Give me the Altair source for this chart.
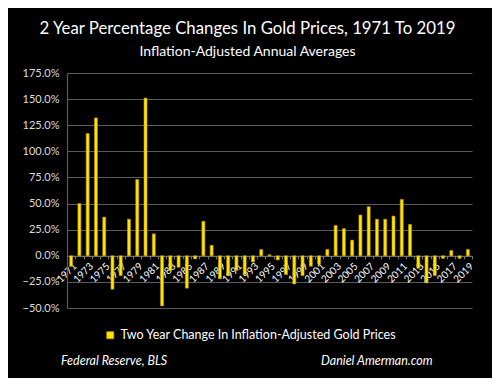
import altair as alt
import pandas as pd

years = list(range(1971, 2020))
changes = [
    -10, 50, 117, 132, 37, -32, -19, 35, 73, 151,
    21, -48, -14, -11, -31, -3, 33, 10, -22, -19,
    -14, -18, -6, 6, 1, -4, -18, -27, -19, -10,
    -8, 6, 29, 26, 15, 39, 47, 35, 35, 38,
    54, 30, -12, -26, -19, -2.5, 5, -2.5, 6,
]
series_name = "Two Year Change In Inflation-Adjusted Gold Prices"
sources = ["Federal Reserve, BLS", "Daniel Amerman.com"]

df = pd.DataFrame({"year": years, "change": changes, "series": series_name})

W, H = 405, 235
FONT = "Lato"
YMIN, YMAX = -50, 175

bars = alt.Chart(df).mark_bar(size=3, stroke="#b89400", strokeWidth=0.6).encode(
    x=alt.X(
        "year:O",
        scale=alt.Scale(paddingInner=0, paddingOuter=0),
        axis=alt.Axis(
            title=None,
            labelAngle=-45,
            labelExpr="datum.value % 2 == 1 ? datum.label : ''",
            labelColor="white",
            labelFont=FONT,
            labelFontSize=10,
            labelPadding=2,
            tickBand="extent",
            tickColor="#777777",
            tickSize=3,
            domainColor="#777777",
            domainWidth=1,
            grid=False,
            offset=-H * (0 - YMIN) / (YMAX - YMIN),
        ),
    ),
    y=alt.Y(
        "change:Q",
        scale=alt.Scale(domain=[YMIN, YMAX], nice=False),
        axis=alt.Axis(
            title=None,
            values=list(range(-50, 176, 25)),
            labelExpr="format(datum.value, '.1f') + '%'",
            labelColor="#dddddd",
            labelFont=FONT,
            labelFontSize=11,
            labelPadding=8,
            ticks=False,
            gridColor="#5a5a5a",
            gridWidth=1.2,
            domainColor="#5a5a5a",
            domainWidth=1.2,
        ),
    ),
    color=alt.Color(
        "series:N",
        scale=alt.Scale(range=["#ffe600"]),
        legend=alt.Legend(
            title=None,
            orient="none",
            legendX=37,
            legendY=256,
            symbolType="square",
            symbolSize=50,
            symbolStrokeColor="#b89400",
            symbolStrokeWidth=0.8,
            labelColor="white",
            labelFont=FONT,
            labelFontSize=12.5,
            labelLimit=400,
        ),
    ),
)

foot_df = pd.DataFrame({"text": sources, "px": [-6, 254]})
footers = alt.Chart(foot_df).mark_text(
    align="left", baseline="middle", color="white", font=FONT,
    fontSize=12.5, fontStyle="italic"
).encode(
    text="text:N",
    x=alt.X("px:Q", scale=None),
    y=alt.value(288),
)

chart = alt.layer(bars, footers).properties(
    width=W,
    height=H,
    title=alt.TitleParams(
        text="2 Year Percentage Changes In Gold Prices, 1971 To 2019",
        subtitle="Inflation-Adjusted Annual Averages",
        anchor="middle",
        dx=-22,
        color="white",
        subtitleColor="white",
        font=FONT,
        subtitleFont=FONT,
        fontSize=16.8,
        fontWeight="normal",
        subtitleFontSize=14,
        subtitlePadding=7,
        offset=8,
    ),
    background="black",
    padding={"left": 59, "top": 65, "right": 20, "bottom": 70},
    autosize=alt.AutoSizeParams(type="none"),
).configure_view(stroke=None)

chart.save("out.html", embed_options={"renderer": "svg", "actions": False})
